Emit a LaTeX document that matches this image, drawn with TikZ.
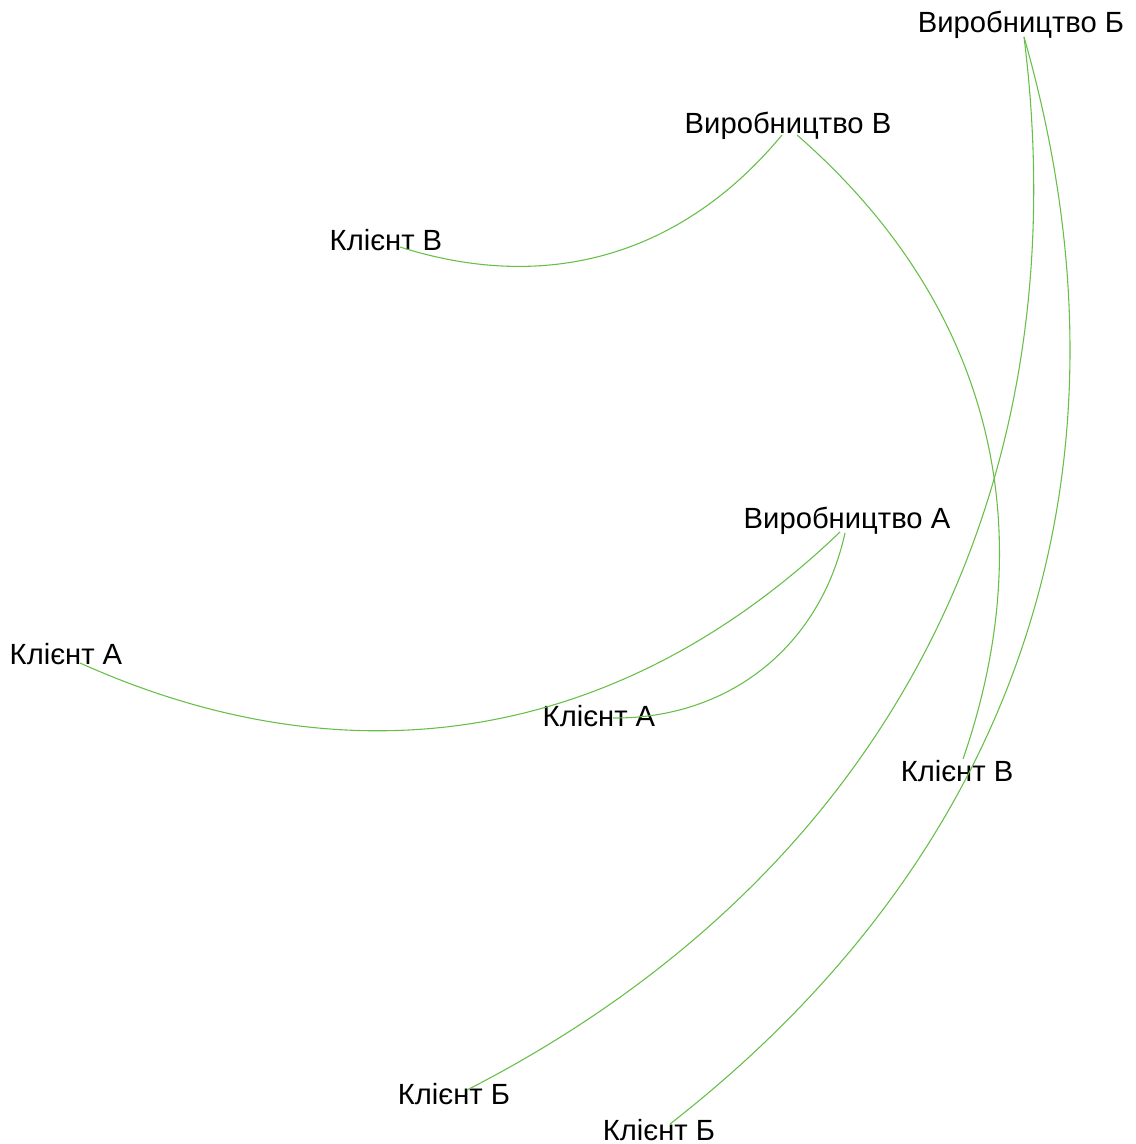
\documentclass[tikz,border=0pt]{standalone}
\usepackage{fontspec}
\setmainfont{Liberation Sans}
\usepackage{tikz}

\definecolor{linkgreen}{RGB}{104,190,72}

\begin{document}
\begin{tikzpicture}[x=0.25pt,y=-0.25pt,
	lbl/.style={anchor=base,inner sep=0pt,font=\fontsize{7.3}{8}\selectfont},
	link/.style={draw=linkgreen,line width=0.27pt}]

\useasboundingbox (0,0) rectangle (1135,1144);

% labels
\node[lbl] (virB) at (1021,33) {Виробництво Б};
\node[lbl] (virV) at (788,134) {Виробництво В};
\node[lbl] (virA) at (847,528) {Виробництво А};

\node[lbl] (kliV1) at (386,251) {Клієнт В};
\node[lbl] (kliA1) at (66,664) {Клієнт А};
\node[lbl] (kliA2) at (599,726) {Клієнт А};
\node[lbl] (kliV2) at (957,781) {Клієнт В};
\node[lbl] (kliB1) at (454,1104) {Клієнт Б};
\node[lbl] (kliB2) at (659,1140) {Клієнт Б};

% link ends
\coordinate (virB-p) at (1024,37);
\coordinate (virV-a) at (782,135);
\coordinate (virV-b) at (797,135);
\coordinate (virA-a) at (840,532);
\coordinate (virA-b) at (845,533);

\coordinate (kliV1-p) at (400,247);
\coordinate (kliA1-p) at (80,663);
\coordinate (kliA2-p) at (613,718);
\coordinate (kliV2-p) at (963,759);
\coordinate (kliB1-p) at (467,1090);
\coordinate (kliB2-p) at (670,1124);

\draw[link] (virV-a) to[bend left=34] (kliV1-p);
\draw[link] (virV-b) to[bend left=34] (kliV2-p);

\draw[link] (virB-p) to[bend left=35] (kliB1-p);
\draw[link] (virB-p) to[bend left=34] (kliB2-p);

\draw[link] (virA-a) to[bend left=34] (kliA1-p);
\draw[link] (virA-b) to[bend left=39] (kliA2-p);

\end{tikzpicture}
\end{document}
